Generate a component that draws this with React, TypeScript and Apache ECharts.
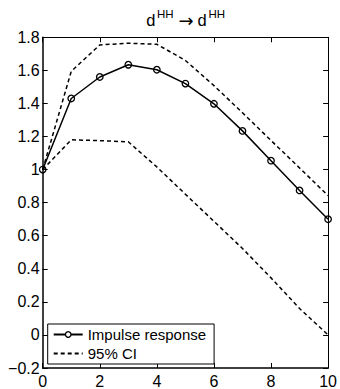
import React, { useEffect, useRef } from "react";
import * as echarts from "echarts";

const periods = [0, 1, 2, 3, 4, 5, 6, 7, 8, 9, 10];
const impulse = [1.0, 1.43, 1.56, 1.634, 1.604, 1.52, 1.398, 1.234, 1.054, 0.874, 0.7];
const upperCI = [1.0, 1.594, 1.754, 1.764, 1.758, 1.66, 1.508, 1.344, 1.176, 1.01, 0.842];
const lowerCI = [1.0, 1.18, 1.175, 1.168, 1.016, 0.851, 0.687, 0.523, 0.345, 0.16, 0.0];
const seriesNames = ["Impulse response", "95% CI"];
const titleParts = ["d", "HH", "\u2192", "d", "HH"];

const FONT = "Liberation Sans, Arial, Helvetica, sans-serif";

export default function App() {
  const ref = useRef<HTMLDivElement>(null);
  useEffect(() => {
    if (!ref.current) return;
    const chart = echarts.init(ref.current, null, { renderer: "svg" });
    const pairs = (ys: number[]) => periods.map((x, i) => [x, ys[i]]);
    const fmtY = (v: number) => {
      const s = String(Math.round(v * 10) / 10);
      return s.replace("-", "\u2212");
    };
    const tickInside = { show: true, inside: true, length: 5, lineStyle: { color: "#000", width: 1 } };
    const txt = (text: string, x: number, y: number, size: number, font = FONT) => ({
      type: "text",
      x,
      y,
      silent: true,
      style: { text, fontSize: size, fontFamily: font, fill: "#000", align: "left", verticalAlign: "middle" },
    });
    chart.setOption({
      animation: false,
      backgroundColor: "#fff",
      textStyle: { fontFamily: FONT },
      grid: { left: 42.7, right: 10, top: 37.3, bottom: 18.2, containLabel: false },
      graphic: [
        txt(titleParts[0], 146.3, 20.3, 16.5),
        txt(titleParts[1], 157, 14.3, 11.5),
        txt(titleParts[2], 178.5, 20.2, 18, "DejaVu Sans"),
        txt(titleParts[3], 197.6, 20.3, 16.5),
        txt(titleParts[4], 208.4, 14.3, 11.5),
      ],
      xAxis: [
        {
          type: "value",
          min: 0,
          max: 10,
          interval: 2,
          position: "bottom",
          axisLine: { show: true, onZero: false, lineStyle: { color: "#000", width: 1.5 } },
          axisTick: tickInside,
          axisLabel: { color: "#000", fontSize: 16, fontFamily: FONT, margin: 5 },
          splitLine: { show: false },
        },
        {
          type: "value",
          min: 0,
          max: 10,
          interval: 2,
          position: "top",
          axisLine: { show: true, onZero: false, lineStyle: { color: "#000", width: 1 } },
          axisTick: tickInside,
          axisLabel: { show: false },
          splitLine: { show: false },
        },
      ],
      yAxis: [
        {
          type: "value",
          min: -0.2,
          max: 1.8,
          interval: 0.2,
          position: "left",
          axisLine: { show: true, onZero: false, lineStyle: { color: "#000", width: 1.5 } },
          axisTick: tickInside,
          axisLabel: { color: "#000", fontSize: 16, fontFamily: FONT, margin: 3, formatter: fmtY },
          splitLine: { show: false },
        },
        {
          type: "value",
          min: -0.2,
          max: 1.8,
          interval: 0.2,
          position: "right",
          axisLine: { show: true, onZero: false, lineStyle: { color: "#000", width: 1 } },
          axisTick: tickInside,
          axisLabel: { show: false },
          splitLine: { show: false },
        },
      ],
      legend: {
        show: true,
        orient: "vertical",
        left: 47.7,
        top: 324,
        itemWidth: 29,
        itemHeight: 7,
        itemGap: 4,
        padding: [3, 8, 3, 5],
        borderColor: "#000",
        borderWidth: 1,
        backgroundColor: "#fff",
        textStyle: { color: "#000", fontSize: 15, fontFamily: FONT },
        data: [
          { name: seriesNames[0], itemStyle: { color: "#fff", borderColor: "#000", borderWidth: 1.3 } },
          { name: seriesNames[1], itemStyle: { color: "rgba(0,0,0,0)", borderWidth: 0, opacity: 0 } },
        ],
        selectedMode: false,
      },
      series: [
        {
          name: seriesNames[1],
          type: "line",
          data: pairs(upperCI),
          symbol: "none",
          lineStyle: { color: "#000", width: 1.5, type: [4, 3] },
          itemStyle: { color: "#000" },
          z: 2,
        },
        {
          name: seriesNames[1],
          type: "line",
          data: pairs(lowerCI),
          symbol: "none",
          lineStyle: { color: "#000", width: 1.5, type: [4, 3] },
          itemStyle: { color: "#000" },
          z: 2,
        },
        {
          name: seriesNames[0],
          type: "line",
          data: pairs(impulse),
          symbol: "circle",
          symbolSize: 6.5,
          showSymbol: true,
          lineStyle: { color: "#000", width: 1.5 },
          itemStyle: { color: "rgba(0,0,0,0)", borderColor: "#000", borderWidth: 1.3 },
          z: 3,
        },
      ],
    });
    return () => chart.dispose();
  }, []);
  return <div ref={ref} style={{ width: 340, height: 389, position: "absolute", left: 0, top: 0 }} />;
}
